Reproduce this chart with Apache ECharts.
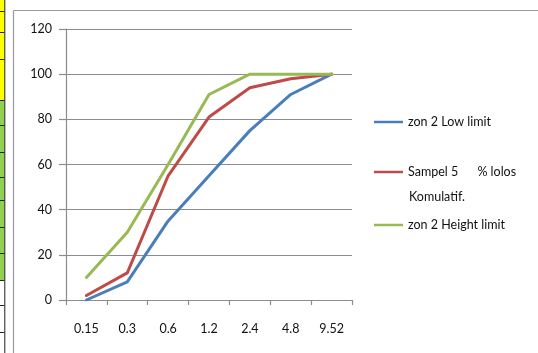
<!DOCTYPE html>
<html>
<head>
<meta charset="utf-8">
<script src="https://cdn.jsdelivr.net/npm/echarts@6/dist/echarts.min.js"></script>
<style>
  html, body { margin: 0; padding: 0; background: #fff; }
  #chart { width: 538px; height: 353px; }
</style>
</head>
<body>
<div id="chart"></div>
<script>
// Sieve sizes (mm) along the x axis
const sieveSizes = ['0.15', '0.3', '0.6', '1.2', '2.4', '4.8', '9.52'];

// Cumulative percent passing for each curve
const lowLimit = [0, 8, 35, 55, 75, 91, 100];
const sampel5 = [2, 12, 55, 81, 94, 98, 100];
const heightLimit = [10, 30, 60, 91, 100, 100, 100];

const seriesNames = ['zon 2 Low limit', 'Sampel 5      % lolos Komulatif.', 'zon 2 Height limit'];
const seriesColors = ['#4A7EBB', '#BE4B48', '#98B954'];
const yTicks = { min: 0, max: 120, step: 20 };

const FONT = 'Lato, "Open Sans", sans-serif';

const chart = echarts.init(document.getElementById('chart'), null, { renderer: 'canvas' });

// spreadsheet cells peeking out at the left edge
const cellLines = [11, 32, 59, 100, 125, 152, 177, 200, 227, 253, 280, 305, 332];
const sheetGraphics = [
  { type: 'rect', shape: { x: 0, y: 0, width: 4.5, height: 100 }, style: { fill: '#FFFF00' }, silent: true },
  { type: 'rect', shape: { x: 0, y: 100, width: 4.5, height: 180 }, style: { fill: '#92D050' }, silent: true },
  { type: 'line', shape: { x1: 4.8, y1: 0, x2: 4.8, y2: 353 }, style: { stroke: '#222', lineWidth: 1 }, silent: true }
];
cellLines.forEach(function (y) {
  sheetGraphics.push({ type: 'line', shape: { x1: 0, y1: y + 0.5, x2: 4.5, y2: y + 0.5 }, style: { stroke: '#222', lineWidth: 1 }, silent: true });
});
// chart frame
sheetGraphics.push({ type: 'line', shape: { x1: 13.5, y1: 10.5, x2: 538, y2: 10.5 }, style: { stroke: '#9a9a9a', lineWidth: 1.2 }, silent: true });
sheetGraphics.push({ type: 'line', shape: { x1: 13.5, y1: 10.5, x2: 13.5, y2: 353 }, style: { stroke: '#9a9a9a', lineWidth: 1.2 }, silent: true });
// second line of the sample legend entry
sheetGraphics.push({
  type: 'text', left: 409, top: 190, silent: true,
  style: { text: 'Komulatif.', font: '12.5px ' + FONT, fill: '#111' }
});

function legendAt(name, top, label) {
  return {
    data: [name],
    orient: 'vertical',
    left: 374,
    top: top,
    padding: 0,
    icon: 'rect',
    itemWidth: 29,
    itemHeight: 2.5,
    selectedMode: false,
    formatter: function () { return label; },
    textStyle: { fontFamily: FONT, fontSize: 12.5, color: '#111', lineHeight: 16 }
  };
}

chart.setOption({
  animation: false,
  backgroundColor: '#fff',
  graphic: sheetGraphics,
  grid: { left: 66, right: 186, top: 29, bottom: 53, containLabel: false },
  legend: [
    legendAt(seriesNames[0], 114, 'zon 2 Low limit'),
    legendAt(seriesNames[1], 164, 'Sampel 5      % lolos'),
    legendAt(seriesNames[2], 217, 'zon 2 Height limit')
  ],
  xAxis: {
    type: 'category',
    data: sieveSizes,
    boundaryGap: true,
    axisLine: { lineStyle: { color: '#8c8c8c', width: 1.2 } },
    axisTick: { show: true, interval: 0, length: 5, lineStyle: { color: '#8c8c8c', width: 1.2 } },
    axisLabel: { interval: 0, margin: 22, fontFamily: FONT, fontSize: 12.5, color: '#111' },
    splitLine: { show: false }
  },
  yAxis: {
    type: 'value',
    min: yTicks.min,
    max: yTicks.max,
    interval: yTicks.step,
    axisLine: { show: true, lineStyle: { color: '#8c8c8c', width: 1.2 } },
    axisTick: { show: true, length: 7, lineStyle: { color: '#8c8c8c', width: 1.2 } },
    axisLabel: { margin: 14, fontFamily: FONT, fontSize: 12.5, color: '#111' },
    splitLine: { show: true, lineStyle: { color: '#8c8c8c', width: 1.2 } }
  },
  series: [
    { name: seriesNames[0], data: lowLimit },
    { name: seriesNames[1], data: sampel5 },
    { name: seriesNames[2], data: heightLimit }
  ].map(function (s, i) {
    return {
      name: s.name,
      type: 'line',
      data: s.data,
      symbol: 'none',
      color: seriesColors[i],
      lineStyle: { color: seriesColors[i], width: 3, cap: 'round', join: 'round' },
      z: 3 + i
    };
  })
});
</script>
</body>
</html>
